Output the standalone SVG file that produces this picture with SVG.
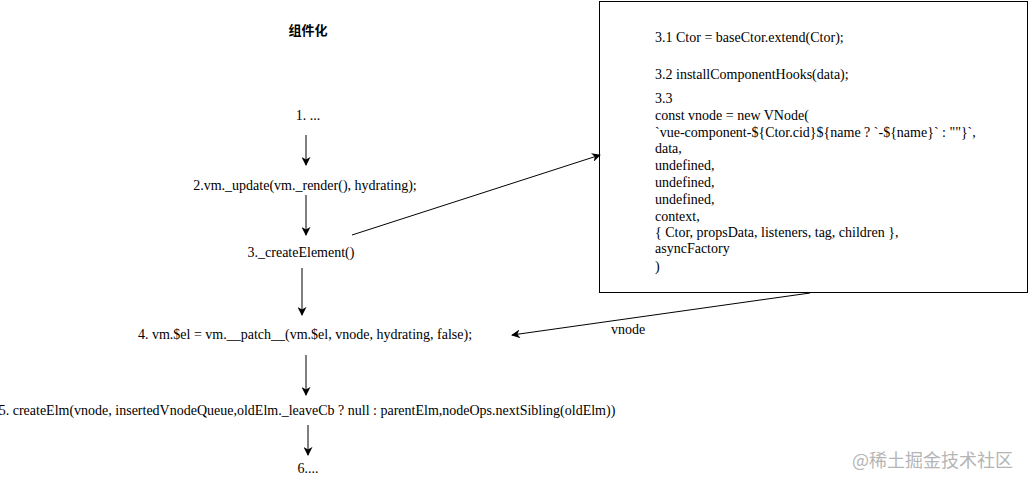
<svg xmlns="http://www.w3.org/2000/svg" width="1029" height="486" viewBox="0 0 1029 486">
<style>
.t{font-family:"Liberation Serif","Times New Roman",serif;font-size:14px;fill:#000}
.c{text-anchor:middle}
.ln{stroke:#000;stroke-width:1;fill:none}
.wm{font-family:"Noto Sans CJK SC",sans-serif;font-size:18px;fill:#b5b5b5}
</style>
<defs>
<marker id="ah" viewBox="0 0 10 10" refX="9" refY="5" markerWidth="9" markerHeight="9" markerUnits="userSpaceOnUse" orient="auto">
<path d="M0,0 L10,5 L0,10 L3,5 Z" fill="#000"/>
</marker>
</defs>
<rect width="1029" height="486" fill="#fff"/>
<g id="title"><text class="t c" x="308" y="35" font-weight="bold" style="font-family:'Noto Sans CJK SC',sans-serif;font-size:13px">组件化</text></g>
<g id="n1"><text class="t c" x="308" y="120">1. ...</text></g>
<g id="n2"><text class="t c" x="305" y="190">2.vm._update(vm._render(), hydrating);</text></g>
<g id="n3"><text class="t c" x="301" y="257">3._createElement()</text></g>
<g id="n4"><text class="t c" x="305" y="339">4. vm.$el = vm.__patch__(vm.$el, vnode, hydrating, false);</text></g>
<g id="n5"><text class="t c" x="307" y="415">5. createElm(vnode, insertedVnodeQueue,oldElm._leaveCb ? null : parentElm,nodeOps.nextSibling(oldElm))</text></g>
<g id="n6"><text class="t c" x="308" y="473">6....</text></g>
<g id="box">
<rect x="599.5" y="1.5" width="428" height="291" fill="#fff" stroke="#000" stroke-width="1"/>
<text class="t" x="655" y="42">3.1 Ctor = baseCtor.extend(Ctor);</text>
<text class="t" x="655" y="79">3.2 installComponentHooks(data);</text>
<text class="t" x="655" y="103">3.3</text>
<text class="t" x="655" y="120">const vnode = new VNode(</text>
<text class="t" x="655" y="137">`vue-component-${Ctor.cid}${name ? `-${name}` : ""}`,</text>
<text class="t" x="655" y="153">data,</text>
<text class="t" x="655" y="170">undefined,</text>
<text class="t" x="655" y="187">undefined,</text>
<text class="t" x="655" y="204">undefined,</text>
<text class="t" x="655" y="221">context,</text>
<text class="t" x="655" y="237">{ Ctor, propsData, listeners, tag, children },</text>
<text class="t" x="655" y="253">asyncFactory</text>
<text class="t" x="655" y="271">)</text>
</g>
<g id="connectors">
<line class="ln" x1="306" y1="135" x2="306" y2="165" marker-end="url(#ah)"/>
<line class="ln" x1="306" y1="195" x2="306" y2="235" marker-end="url(#ah)"/>
<line class="ln" x1="352" y1="235" x2="600" y2="155" marker-end="url(#ah)"/>
<line class="ln" x1="302" y1="268" x2="302" y2="315" marker-end="url(#ah)"/>
<line class="ln" x1="810" y1="293" x2="512" y2="335" marker-end="url(#ah)"/>
<text class="t" x="611" y="334">vnode</text>
<line class="ln" x1="306" y1="355" x2="306" y2="395" marker-end="url(#ah)"/>
<line class="ln" x1="308" y1="425" x2="308" y2="455" marker-end="url(#ah)"/>
</g>
<text class="wm" x="852" y="467">@稀土掘金技术社区</text>
</svg>
